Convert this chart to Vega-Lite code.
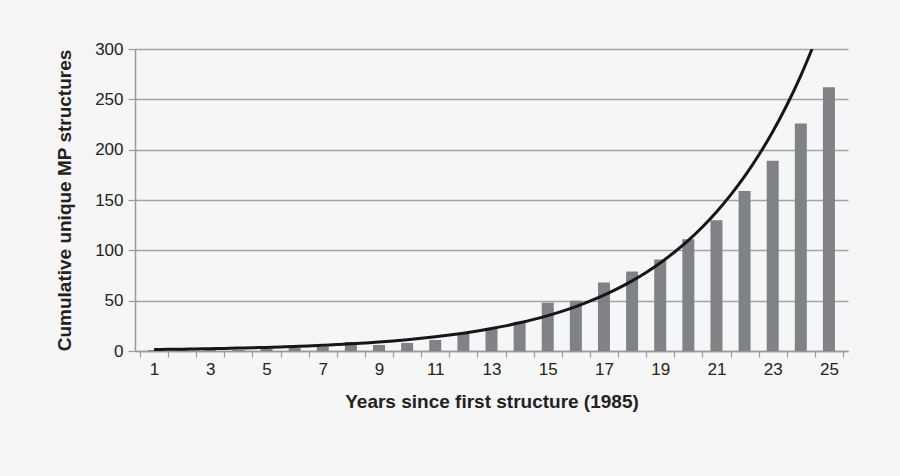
{
  "$schema": "https://vega.github.io/schema/vega-lite/v6.json",
  "autosize": "none",
  "width": 713,
  "height": 302,
  "padding": {"left": 135, "top": 49, "right": 52, "bottom": 125},
  "background": "#f6f6f6",
  "config": {
    "view": {"stroke": null},
    "font": "Liberation Sans",
    "axis": {"labelFont": "Liberation Sans", "titleFont": "Liberation Sans", "labelColor": "#222222", "titleColor": "#222222"}
  },
  "datasets": {
    "bars": [
      {"year": 1, "count": 1}, {"year": 2, "count": 1}, {"year": 3, "count": 1}, {"year": 4, "count": 1},
      {"year": 5, "count": 2}, {"year": 6, "count": 3}, {"year": 7, "count": 4}, {"year": 8, "count": 9},
      {"year": 9, "count": 6}, {"year": 10, "count": 8}, {"year": 11, "count": 11}, {"year": 12, "count": 17},
      {"year": 13, "count": 22}, {"year": 14, "count": 29}, {"year": 15, "count": 48}, {"year": 16, "count": 50},
      {"year": 17, "count": 68}, {"year": 18, "count": 79}, {"year": 19, "count": 91}, {"year": 20, "count": 111},
      {"year": 21, "count": 130}, {"year": 22, "count": 159}, {"year": 23, "count": 189}, {"year": 24, "count": 226},
      {"year": 25, "count": 262}
    ],
    "curve": [
      {"x": 1, "y": 1.44}, {"x": 1.5, "y": 1.62}, {"x": 2, "y": 1.81}, {"x": 2.5, "y": 2.03},
      {"x": 3, "y": 2.28}, {"x": 3.5, "y": 2.55}, {"x": 4, "y": 2.86}, {"x": 4.5, "y": 3.21},
      {"x": 5, "y": 3.6}, {"x": 5.5, "y": 4.03}, {"x": 6, "y": 4.52}, {"x": 6.5, "y": 5.06},
      {"x": 7, "y": 5.67}, {"x": 7.5, "y": 6.36}, {"x": 8, "y": 7.13}, {"x": 8.5, "y": 7.99},
      {"x": 9, "y": 8.95}, {"x": 9.5, "y": 10.03}, {"x": 10, "y": 11.24}, {"x": 10.5, "y": 12.6},
      {"x": 11, "y": 14.12}, {"x": 11.5, "y": 15.83}, {"x": 12, "y": 17.74}, {"x": 12.5, "y": 19.88},
      {"x": 13, "y": 22.28}, {"x": 13.5, "y": 24.97}, {"x": 14, "y": 27.99}, {"x": 14.5, "y": 31.37},
      {"x": 15, "y": 35.16}, {"x": 15.5, "y": 39.4}, {"x": 16, "y": 44.16}, {"x": 16.5, "y": 49.49},
      {"x": 17, "y": 55.46}, {"x": 17.5, "y": 62.16}, {"x": 18, "y": 69.66}, {"x": 18.5, "y": 78.08},
      {"x": 19, "y": 87.51}, {"x": 19.5, "y": 98.07}, {"x": 20, "y": 109.9}, {"x": 20.5, "y": 123.2},
      {"x": 21, "y": 138.1}, {"x": 21.5, "y": 154.8}, {"x": 22, "y": 173.4}, {"x": 22.5, "y": 194.4},
      {"x": 23, "y": 217.8}, {"x": 23.5, "y": 244.1}, {"x": 24, "y": 273.6}, {"x": 24.4, "y": 300}
    ]
  },
  "resolve": {"axis": {"x": "independent"}},
  "layer": [
    {
      "data": {"name": "bars"},
      "mark": {"type": "bar", "size": 12, "color": "#818285"},
      "encoding": {
        "x": {
          "field": "year", "type": "quantitative",
          "scale": {"domain": [0.5, 25.5], "nice": false, "zero": false},
          "axis": {
            "orient": "bottom",
            "title": "Years since first structure (1985)",
            "titleFontSize": 19, "titleFontWeight": "bold", "titlePadding": 15,
            "values": [1, 3, 5, 7, 9, 11, 13, 15, 17, 19, 21, 23, 25],
            "labelOverlap": false,
            "labelFlush": false,
            "labelFontSize": 17, "labelPadding": 10,
            "ticks": false,
            "domainColor": "#999999", "domainWidth": 1.5,
            "grid": false
          }
        },
        "y": {
          "field": "count", "type": "quantitative",
          "scale": {"domain": [0, 300], "nice": false},
          "axis": {
            "title": "Cumulative unique MP structures",
            "titleFontSize": 19, "titleFontWeight": "bold", "titlePadding": 20,
            "values": [0, 50, 100, 150, 200, 250, 300],
            "labelFontSize": 17, "labelPadding": 5,
            "tickColor": "#999999", "tickSize": 7, "tickWidth": 1.2,
            "domainColor": "#999999", "domainWidth": 1.5,
            "grid": true, "gridColor": "#a3a3a3", "gridWidth": 1.5
          }
        }
      }
    },
    {
      "data": {"name": "curve"},
      "mark": {"type": "line", "color": "#161616", "strokeWidth": 3, "interpolate": "monotone", "clip": true},
      "encoding": {
        "x": {
          "field": "x", "type": "quantitative",
          "axis": {
            "orient": "bottom",
            "title": null,
            "labels": false,
            "domain": false,
            "grid": false,
            "values": [0.5,1.5,2.5,3.5,4.5,5.5,6.5,7.5,8.5,9.5,10.5,11.5,12.5,13.5,14.5,15.5,16.5,17.5,18.5,19.5,20.5,21.5,22.5,23.5,24.5,25.5],
            "tickColor": "#999999", "tickSize": 6, "tickWidth": 1.2
          }
        },
        "y": {"field": "y", "type": "quantitative"}
      }
    }
  ]
}
